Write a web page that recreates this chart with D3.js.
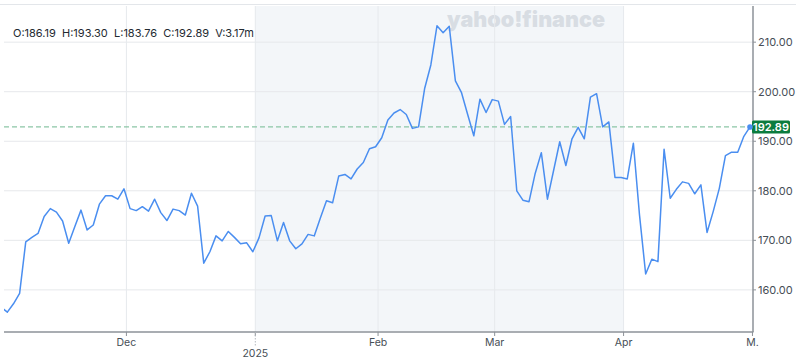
<!DOCTYPE html>
<html>
<head>
<meta charset="utf-8">
<script src="https://cdn.jsdelivr.net/npm/d3@7"></script>
<style>
  html, body { margin: 0; padding: 0; background: #fff; }
  svg { display: block; font-family: "Inter", "Liberation Sans", sans-serif; }
</style>
</head>
<body>
<div id="chart"></div>
<script>
// daily closes, Nov 1 2024 .. May 1 2025 (one per trading day)
const closes = [
  156.5, 155.5, 157.2, 159.3, 169.7, 170.6, 171.4, 174.8, 176.4, 175.7,
  173.9, 169.4, 172.8, 176.1, 172.1, 173.1, 177.3, 179.0, 179.0, 178.3,
  180.4, 176.4, 176.0, 176.8, 175.9, 178.3, 175.6, 174.0, 176.3, 176.0,
  175.1, 179.5, 176.9, 165.4, 167.7, 170.9, 169.9, 171.8, 170.6, 169.3,
  169.5, 167.7, 170.5, 174.9, 175.0, 169.9, 173.6, 169.9, 168.3, 169.3,
  171.2, 170.9, 174.5, 178.0, 177.6, 183.0, 183.3, 182.4, 184.4, 185.7,
  188.5, 188.9, 190.7, 194.3, 195.7, 196.4, 195.4, 192.6, 192.9, 200.7,
  205.4, 213.3, 211.9, 213.2, 202.2, 199.8, 195.4, 191.1, 198.5, 195.8,
  198.4, 198.1, 193.4, 195.0, 180.0, 178.1, 177.8, 183.5, 187.7, 178.3,
  184.1, 189.9, 185.1, 190.5, 192.8, 190.5, 198.9, 199.6, 192.9, 193.9,
  182.7, 182.7, 182.4, 189.6, 175.1, 163.2, 166.2, 165.7, 188.4, 178.5,
  180.3, 181.8, 181.5, 179.4, 181.2, 171.6, 175.8, 180.5, 187.1, 187.8,
  187.8, 191.0, 192.89
];

// month ticks: index of first trading day
const monthTickIdx = [20, 41, 61, 80, 101, 122];
const monthTickLabels = ["Dec", "", "Feb", "Mar", "Apr", "M."];
const yearTickIdx = 41;
const yearLabel = "2025";
const yTicks = [160, 170, 180, 190, 200, 210];
const shadeFromIdx = 41, shadeToIdx = 101;

const ohlcv = ["O:186.19", "H:193.30", "L:183.76", "C:192.89", "V:3.17m"];
const lastClose = 192.89;

const width = 800, height = 360;
const plot = { left: 4, right: 753, top: 5, bottom: 332 };

const svg = d3.select("#chart").append("svg")
  .attr("width", width)
  .attr("height", height);

const x = d3.scaleLinear()
  .domain([0, closes.length - 1])
  .range([1.2, 750]);

const y = d3.scaleLinear()
  .domain([151.5, 217.5])
  .range([plot.bottom, plot.top]);

// month boundary sits a little after the first trading day's point
const tickX = i => x(i + 0.4);

// top border
svg.append("line")
  .attr("x1", 0).attr("x2", 796)
  .attr("y1", 4.5).attr("y2", 4.5)
  .attr("stroke", "#e3e6ea");

// shaded 2025 Q1 band
svg.append("rect")
  .attr("x", tickX(shadeFromIdx))
  .attr("y", plot.top + 1)
  .attr("width", tickX(shadeToIdx) - tickX(shadeFromIdx))
  .attr("height", plot.bottom - plot.top - 2)
  .attr("fill", "#f3f6f9");

// watermark
svg.append("text")
  .attr("x", 447).attr("y", 27)
  .attr("textLength", 158)
  .attr("lengthAdjust", "spacingAndGlyphs")
  .attr("font-size", 22)
  .attr("font-weight", 900)
  .attr("fill", "#d8dde3")
  .text("yahoo!finance");

// horizontal grid
svg.append("g")
  .selectAll("line")
  .data(yTicks)
  .join("line")
  .attr("x1", plot.left).attr("x2", plot.right)
  .attr("y1", d => y(d)).attr("y2", d => y(d))
  .attr("stroke", "#e6e8eb");

// vertical grid at month ticks
svg.append("g")
  .selectAll("line")
  .data(monthTickIdx.slice(0, -1))
  .join("line")
  .attr("x1", d => tickX(d)).attr("x2", d => tickX(d))
  .attr("y1", plot.top + 1).attr("y2", plot.bottom)
  .attr("stroke", "#e6e9ed");

// last close dashed line
svg.append("line")
  .attr("x1", plot.left).attr("x2", plot.right)
  .attr("y1", y(lastClose)).attr("y2", y(lastClose))
  .attr("stroke", "#8cc6a6")
  .attr("stroke-width", 1.3)
  .attr("stroke-dasharray", "5,3");

// price line
svg.append("clipPath").attr("id", "clip")
  .append("rect")
  .attr("x", plot.left).attr("y", 0)
  .attr("width", plot.right - plot.left).attr("height", plot.bottom);

const line = d3.line()
  .x((d, i) => x(i))
  .y(d => y(d));

svg.append("path")
  .datum(closes)
  .attr("clip-path", "url(#clip)")
  .attr("fill", "none")
  .attr("stroke", "#4a8ef0")
  .attr("stroke-width", 1.5)
  .attr("stroke-linejoin", "round")
  .attr("d", line);

// axes lines
svg.append("line")
  .attr("x1", plot.left).attr("x2", plot.right + 0.5)
  .attr("y1", plot.bottom).attr("y2", plot.bottom)
  .attr("stroke", "#8d9298").attr("stroke-width", 1.5);

svg.append("line")
  .attr("x1", plot.right).attr("x2", plot.right)
  .attr("y1", plot.top + 1).attr("y2", plot.bottom)
  .attr("stroke", "#8d9298").attr("stroke-width", 1.5);

// y ticks + labels
const yAxis = svg.append("g");
yAxis.selectAll("line")
  .data(yTicks)
  .join("line")
  .attr("x1", plot.right).attr("x2", plot.right + 3)
  .attr("y1", d => y(d)).attr("y2", d => y(d))
  .attr("stroke", "#8d9298");
yAxis.selectAll("text")
  .data(yTicks)
  .join("text")
  .attr("x", plot.right + 5)
  .attr("y", d => y(d))
  .attr("dy", "0.35em")
  .attr("font-size", 11)
  .attr("fill", "#464e56")
  .text(d => d3.format(".2f")(d));

// x ticks + labels
const xAxis = svg.append("g");
xAxis.selectAll("line")
  .data(monthTickIdx)
  .join("line")
  .attr("x1", d => tickX(d)).attr("x2", d => tickX(d))
  .attr("y1", plot.bottom).attr("y2", plot.bottom + 4)
  .attr("stroke", "#8d9298");
xAxis.selectAll("text")
  .data(monthTickIdx)
  .join("text")
  .attr("x", d => tickX(d))
  .attr("y", plot.bottom + 14)
  .attr("text-anchor", "middle")
  .attr("font-size", 10.5)
  .attr("fill", "#464e56")
  .text((d, i) => monthTickLabels[i]);

svg.append("line")
  .attr("x1", tickX(yearTickIdx)).attr("x2", tickX(yearTickIdx))
  .attr("y1", plot.bottom).attr("y2", plot.bottom + 15)
  .attr("stroke", "#b5b9be")
  .attr("stroke-dasharray", "1.5,1.5");
svg.append("text")
  .attr("x", tickX(yearTickIdx))
  .attr("y", plot.bottom + 25)
  .attr("text-anchor", "middle")
  .attr("font-size", 10.5)
  .attr("fill", "#464e56")
  .text(yearLabel);

// last price tag + marker
const lastIdx = closes.length - 1;
svg.append("rect")
  .attr("x", plot.right - 1).attr("y", y(lastClose) - 6.5)
  .attr("width", 38).attr("height", 13)
  .attr("rx", 1.5)
  .attr("fill", "#0b7c3e");
svg.append("text")
  .attr("x", plot.right + 18)
  .attr("y", y(lastClose))
  .attr("dy", "0.36em")
  .attr("text-anchor", "middle")
  .attr("font-size", 11)
  .attr("font-weight", 600)
  .attr("fill", "#fff")
  .text(d3.format(".2f")(lastClose));
svg.append("circle")
  .attr("cx", x(lastIdx)).attr("cy", y(closes[lastIdx]))
  .attr("r", 2.8)
  .attr("fill", "#4a8ef0");

// OHLCV legend
svg.append("text")
  .attr("x", 13).attr("y", 37)
  .attr("font-size", 11)
  .attr("fill", "#232a31")
  .attr("xml:space", "preserve")
  .text(ohlcv.join("  "));
</script>
</body>
</html>
